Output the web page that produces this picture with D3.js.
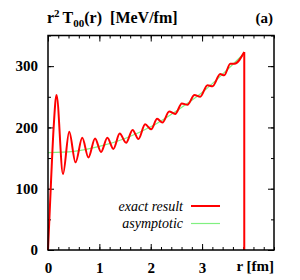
<!DOCTYPE html>
<html>
<head>
<meta charset="utf-8">
<script src="https://cdn.jsdelivr.net/npm/d3@7"></script>
<style>
    body { margin: 0; background: #fff; }
    svg { display: block; }
    svg text { font-family: 'Liberation Serif', 'DejaVu Serif', serif !important; }
</style>
</head>
<body>
<svg id="chart" width="300" height="280"></svg>
<script>
'use strict';

// exact result: start, peaks / troughs of the oscillation, end (r in fm, value in MeV/fm)
const exactR = [0, 0.06, 0.11, 0.166, 0.292, 0.413, 0.536, 0.667, 0.786, 0.916, 1.033, 1.156, 1.273,
    1.396, 1.520, 1.647, 1.760, 1.891, 2.008, 2.125, 2.228, 2.359, 2.476, 2.606, 2.715, 2.852,
    2.963, 3.105, 3.203, 3.353, 3.431, 3.548, 3.632, 3.821];
const exactV = [0, 114, 200, 253, 124, 193, 143, 183, 151, 182, 160, 183, 165,
    190, 175, 196, 181, 205, 197, 214, 208, 226, 222, 239, 237, 253,
    250, 269, 267, 287, 285, 304, 304, 323];

// asymptotic form
const asymR = [0, 0.5, 1.0, 1.5, 2.0, 2.5, 3.0, 3.5, 3.821];
const asymV = [159, 161, 169, 182, 201, 227, 257, 295, 321];

const xTicks = [0, 1, 2, 3];
const yTicks = [0, 100, 200, 300];
const xLabel = 'r [fm]';
const panelLabel = '(a)';
const legendNames = ['exact result', 'asymptotic'];

const LEFT = 48;
const RIGHT = 274;
const TOP = 35.5;
const BOTTOM = 250;
const RED = '#ff0000';
const GREEN = '#80f080';

const svg = d3.select('#chart');

const x = d3.scaleLinear().domain([0, 4.4]).range([LEFT, RIGHT]);
const y = d3.scaleLinear().domain([0, 350]).range([BOTTOM, TOP]);

const minorX = d3.range(0, 4.41, 0.2);
const minorY = d3.range(0, 351, 50);

// small ticks on all four sides, pointing inward
const sides = [
    {axis: d3.axisBottom, scale: x, t: [0, BOTTOM], minor: minorX},
    {axis: d3.axisTop, scale: x, t: [0, TOP], minor: minorX},
    {axis: d3.axisLeft, scale: y, t: [LEFT, 0], minor: minorY},
    {axis: d3.axisRight, scale: y, t: [RIGHT, 0], minor: minorY}
];

sides.forEach(s => {
    svg.append('g')
        .attr('transform', 'translate(' + s.t + ')')
        .call(s.axis(s.scale).tickValues(s.minor).tickSize(-3).tickFormat(''))
        .call(g => g.select('.domain').remove())
        .selectAll('line').attr('stroke', '#000');
});

const gX = svg.append('g')
    .attr('transform', 'translate(0,' + BOTTOM + ')')
    .call(d3.axisBottom(x).tickValues(xTicks).tickSize(-6).tickPadding(12).tickFormat(d3.format('d')));
gX.select('.domain').remove();

const gY = svg.append('g')
    .attr('transform', 'translate(' + LEFT + ',0)')
    .call(d3.axisLeft(y).tickValues(yTicks).tickSize(-6).tickPadding(10).tickFormat(d3.format('d')));
gY.select('.domain').remove();

svg.append('g')
    .attr('transform', 'translate(0,' + TOP + ')')
    .call(d3.axisTop(x).tickValues(xTicks).tickSize(-6).tickFormat(''))
    .call(g => g.select('.domain').remove());
svg.append('g')
    .attr('transform', 'translate(' + RIGHT + ',0)')
    .call(d3.axisRight(y).tickValues(yTicks).tickSize(-6).tickFormat(''))
    .call(g => g.select('.domain').remove());

svg.selectAll('.tick line').attr('stroke', '#000');
svg.selectAll('.tick text')
    .attr('fill', '#000')
    .attr('font-size', 15)
    .attr('font-weight', 'bold');

// curves
const exact = exactR.map((r, i) => ({r: r, v: exactV[i]}));
const asym = asymR.map((r, i) => ({r: r, v: asymV[i]}));

const line = d3.line()
    .x(d => x(d.r))
    .y(d => y(d.v))
    .curve(d3.curveMonotoneX);

svg.append('path')
    .datum(asym)
    .attr('fill', 'none')
    .attr('stroke', GREEN)
    .attr('stroke-width', 1.2)
    .attr('d', line);

svg.append('path')
    .datum(exact)
    .attr('fill', 'none')
    .attr('stroke', RED)
    .attr('stroke-width', 2)
    .attr('stroke-linejoin', 'round')
    .attr('d', line);

// drop to zero at the end of the exact curve
const last = exact[exact.length - 1];
svg.append('path')
    .datum([last, {r: last.r, v: 0}])
    .attr('fill', 'none')
    .attr('stroke', RED)
    .attr('stroke-width', 2)
    .attr('d', d3.line().x(d => x(d.r)).y(d => y(d.v)));

// frame
svg.append('rect')
    .attr('x', LEFT)
    .attr('y', TOP)
    .attr('width', RIGHT - LEFT)
    .attr('height', BOTTOM - TOP)
    .attr('fill', 'none')
    .attr('stroke', '#000')
    .attr('stroke-width', 1.5);

// axis titles
svg.append('text')
    .attr('x', RIGHT)
    .attr('y', 271)
    .attr('text-anchor', 'end')
    .attr('font-size', 15)
    .attr('font-weight', 'bold')
    .text(xLabel);

const title = svg.append('text')
    .attr('x', 47)
    .attr('y', 23)
    .attr('font-size', 16)
    .attr('font-weight', 'bold');
title.append('tspan').text('r');
title.append('tspan').attr('dy', -6).attr('font-size', 11).text('2');
title.append('tspan').attr('dy', 6).attr('dx', 3).text('T');
title.append('tspan').attr('dy', 4).attr('font-size', 11).text('00');
title.append('tspan').attr('dy', -4).text('(r)');
title.append('tspan').attr('dx', 8).text('[MeV/fm]');

svg.append('text')
    .attr('x', 273)
    .attr('y', 23)
    .attr('text-anchor', 'end')
    .attr('font-size', 15)
    .attr('font-weight', 'bold')
    .text(panelLabel);

// legend
const legendColors = [RED, GREEN];
const legendWidths = [2, 1.2];
const legend = svg.selectAll('.legend')
    .data(legendNames)
    .enter()
    .append('g')
    .attr('class', 'legend')
    .attr('transform', (d, i) => 'translate(0,' + (206 + i * 17.5) + ')');

legend.append('text')
    .attr('x', 183)
    .attr('y', 4.5)
    .attr('text-anchor', 'end')
    .attr('font-size', 14)
    .attr('font-style', 'italic')
    .text(d => d);

legend.append('line')
    .attr('x1', 191)
    .attr('x2', 220)
    .attr('stroke', (d, i) => legendColors[i])
    .attr('stroke-width', (d, i) => legendWidths[i]);
</script>
</body>
</html>
